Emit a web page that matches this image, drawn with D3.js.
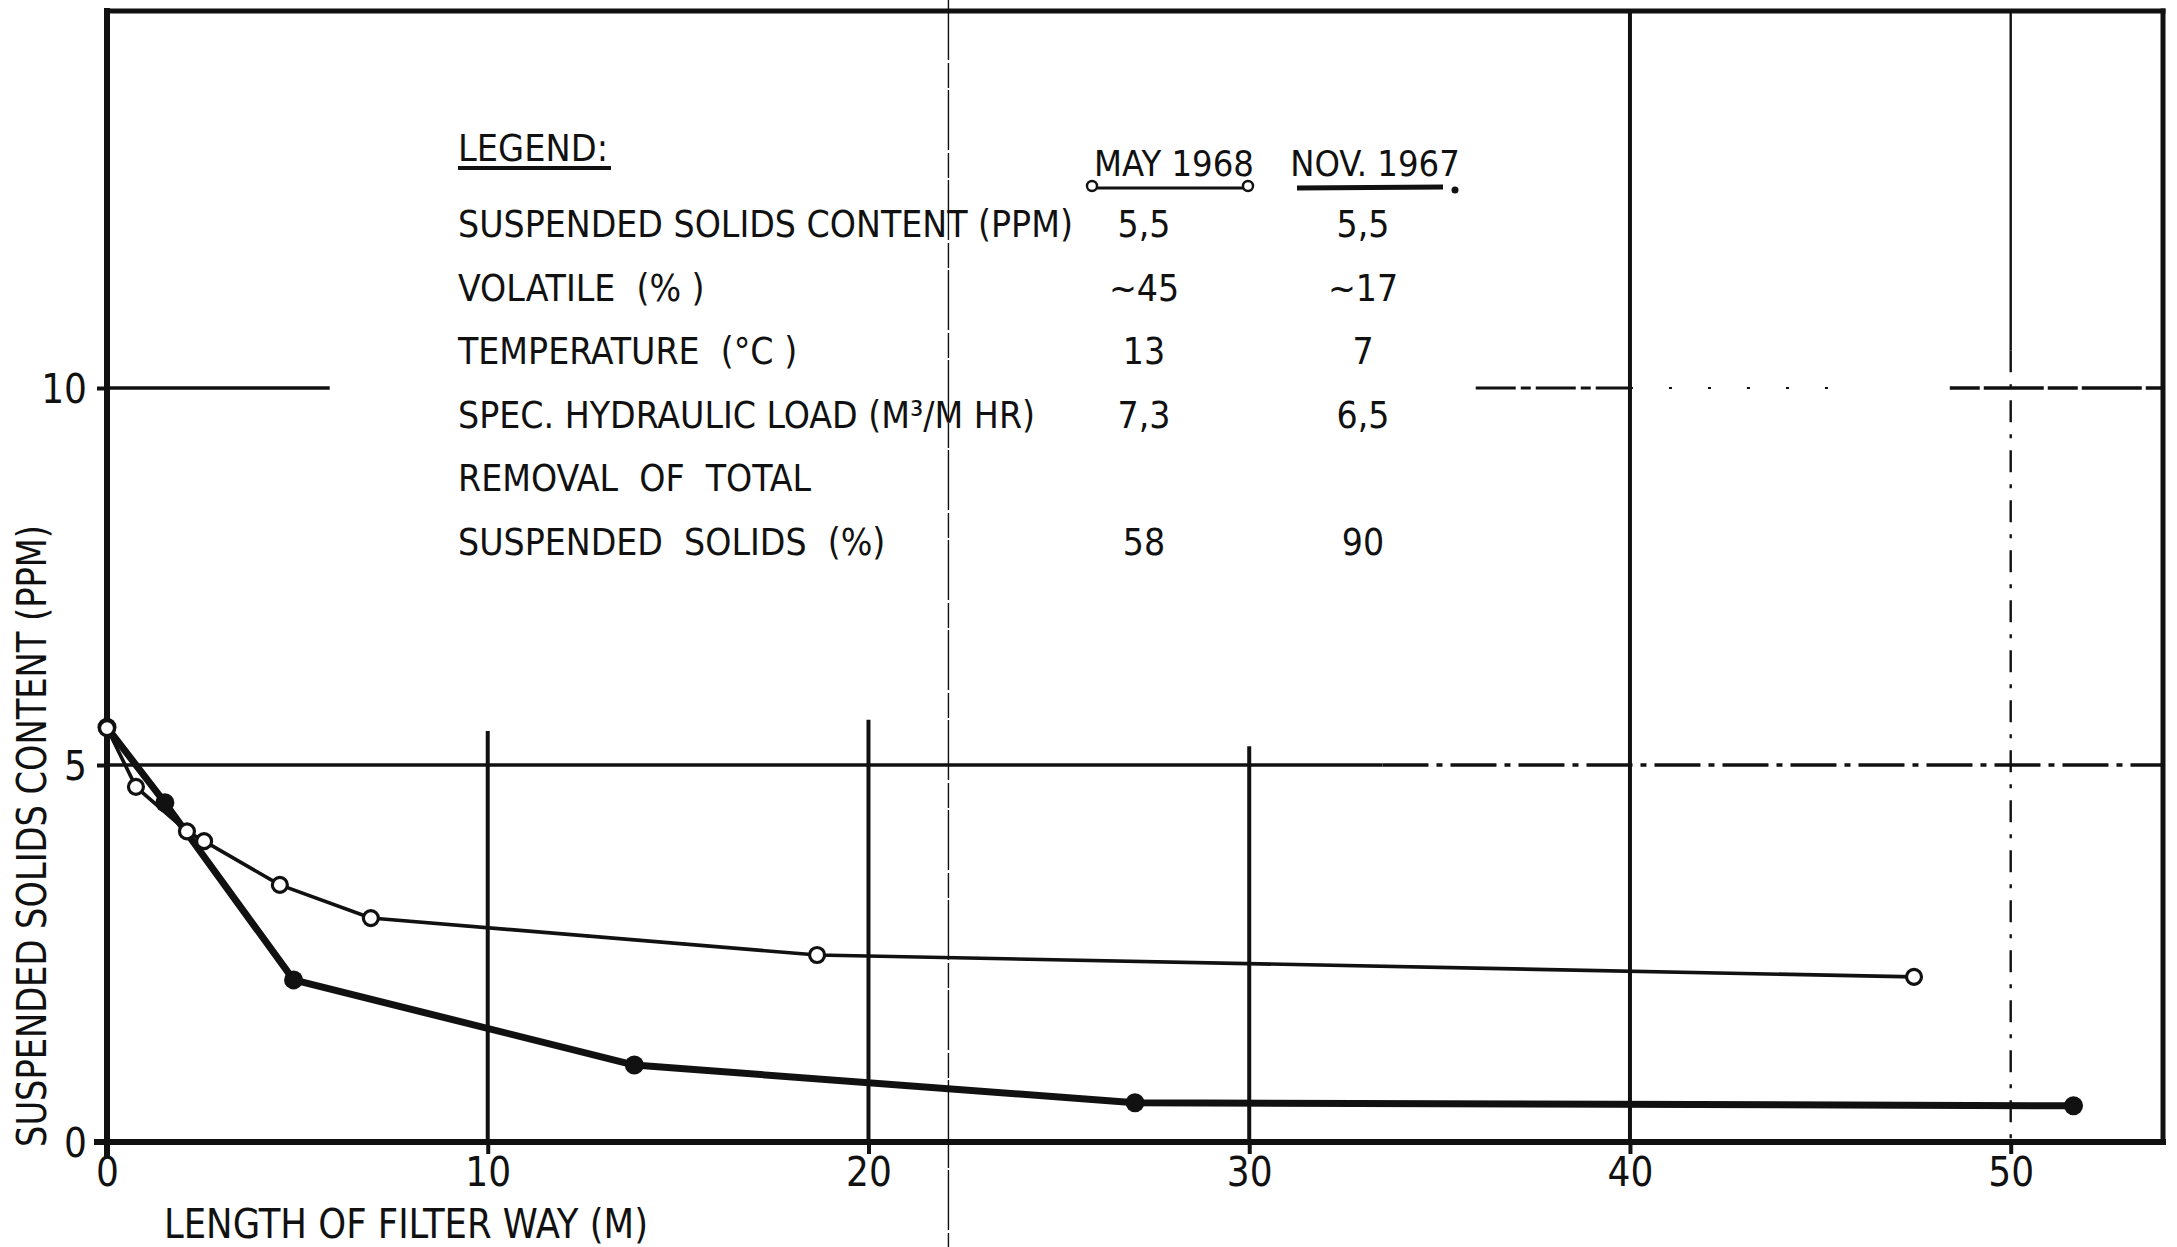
<!DOCTYPE html>
<html>
<head>
<meta charset="utf-8">
<script src="https://cdn.jsdelivr.net/npm/d3@7"></script>
<style>
  html, body { margin: 0; padding: 0; background: #fff; }
  svg { display: block; }
  text { font-family: "Liberation Sans Narrow", "DejaVu Sans Condensed", "Arial Narrow", sans-serif; fill: #111; white-space: pre; }
</style>
</head>
<body>
<svg id="chart" width="2177" height="1247"></svg>
<script>
// Suspended solids along the filter way, two sampling campaigns
const may1968Length = [0, 0.76, 2.1, 2.55, 4.54, 6.93, 18.65, 47.46];
const may1968Solids = [5.49, 4.71, 4.12, 3.99, 3.41, 2.97, 2.48, 2.19];
const nov1967Length = [0, 1.52, 4.9, 13.85, 27.0, 51.65];
const nov1967Solids = [5.5, 4.5, 2.15, 1.02, 0.52, 0.48];

// Axis ticks
const xTicks = [0, 10, 20, 30, 40, 50];
const yTicks = [0, 5, 10];

// Vertical grid lines and how far up each one is drawn (ppm)
const gridX = [10, 20, 30, 40];
const gridXTop = [5.45, 5.6, 5.25, 15];

// Legend table
const legendColumns = ["MAY 1968", "NOV. 1967"];
const legendRows = [
  "SUSPENDED SOLIDS CONTENT (PPM)",
  "VOLATILE  (% )",
  "TEMPERATURE  (°C )",
  "SPEC. HYDRAULIC LOAD (M³/M HR)",
  "REMOVAL  OF  TOTAL",
  "SUSPENDED  SOLIDS  (%)"
];
const may1968Values = ["5,5", "~45", "13", "7,3", "", "58"];
const nov1967Values = ["5,5", "~17", "7", "6,5", "", "90"];

const svg = d3.select("#chart");
const W = 2177, H = 1247;

const x = d3.scaleLinear().domain([0, 54]).range([107, 2163]);
const y = d3.scaleLinear().domain([0, 15]).range([1142, 11]);

const ink = "#111";

// ---- grid ----
const grid = svg.append("g").attr("stroke", ink).attr("fill", "none");

// horizontal line at 5 ppm: solid, then broken towards the right
grid.append("line")
  .attr("x1", x(0)).attr("x2", x(33.5)).attr("y1", y(5)).attr("y2", y(5))
  .attr("stroke-width", 3.6);
grid.append("line")
  .attr("x1", x(33.5)).attr("x2", x(54)).attr("y1", y(5)).attr("y2", y(5))
  .attr("stroke-width", 3.4).attr("stroke-dasharray", "46,8,6,8");

// horizontal line at 10 ppm, interrupted by the legend
grid.append("line")
  .attr("x1", x(0)).attr("x2", x(5.85)).attr("y1", y(10)).attr("y2", y(10))
  .attr("stroke-width", 3.6);
grid.append("line")
  .attr("x1", x(35.95)).attr("x2", x(40)).attr("y1", y(10)).attr("y2", y(10))
  .attr("stroke-width", 3).attr("stroke-dasharray", "40,5,10,5");
grid.append("line")
  .attr("x1", x(40)).attr("x2", x(45.4)).attr("y1", y(10)).attr("y2", y(10))
  .attr("stroke-width", 2.2).attr("stroke-dasharray", "3,36");
grid.append("line")
  .attr("x1", x(48.4)).attr("x2", x(54)).attr("y1", y(10)).attr("y2", y(10))
  .attr("stroke-width", 3.4).attr("stroke-dasharray", "30,4,60,4");

// vertical grid lines
grid.selectAll("line.vgrid")
  .data(gridX)
  .join("line")
  .attr("class", "vgrid")
  .attr("x1", d => x(d)).attr("x2", d => x(d))
  .attr("y1", y(0)).attr("y2", (d, i) => y(gridXTop[i]))
  .attr("stroke-width", 4);

// 50 m line: solid near the top, dash-dot below
grid.append("line")
  .attr("x1", x(50)).attr("x2", x(50)).attr("y1", y(15)).attr("y2", y(10.5))
  .attr("stroke-width", 2.4);
grid.append("line")
  .attr("x1", x(50)).attr("x2", x(50)).attr("y1", y(10.5)).attr("y2", y(0))
  .attr("stroke-width", 2.4).attr("stroke-dasharray", "22,12,4,12");

// thin fold line across the sheet
svg.append("line")
  .attr("x1", x(22.1)).attr("x2", x(22.1)).attr("y1", 0).attr("y2", H)
  .attr("stroke", ink).attr("stroke-width", 1.4).attr("stroke-dasharray", "60,3,25,2");

// ---- frame and axes ----
const frame = svg.append("g").attr("stroke", ink).attr("fill", "none").attr("stroke-linecap", "square");
frame.append("line")   // top border
  .attr("x1", x(0)).attr("x2", x(54)).attr("y1", y(15)).attr("y2", y(15))
  .attr("stroke-width", 5);
frame.append("line")   // right border
  .attr("x1", x(54)).attr("x2", x(54)).attr("y1", y(15)).attr("y2", y(0))
  .attr("stroke-width", 5);
frame.append("line")   // x axis
  .attr("x1", x(0) - 10).attr("x2", x(54)).attr("y1", y(0)).attr("y2", y(0))
  .attr("stroke-width", 6);
frame.append("line")   // y axis
  .attr("x1", x(0)).attr("x2", x(0)).attr("y1", y(15)).attr("y2", y(0) + 12)
  .attr("stroke-width", 6);

const xAxis = d3.axisBottom(x).tickValues(xTicks).tickSize(12).tickPadding(4).tickFormat(d3.format("d"));
const gx = svg.append("g").attr("transform", `translate(0,${y(0)})`).call(xAxis);
gx.select(".domain").remove();
gx.selectAll(".tick line").attr("stroke", ink).attr("stroke-width", 4);
gx.selectAll(".tick text").attr("font-size", 40).attr("fill", ink);

const yAxis = d3.axisLeft(y).tickValues(yTicks).tickSize(10).tickPadding(10).tickFormat(d3.format("d"));
const gy = svg.append("g").attr("transform", `translate(${x(0)},0)`).call(yAxis);
gy.select(".domain").remove();
gy.selectAll(".tick line").attr("stroke", ink).attr("stroke-width", 4);
gy.selectAll(".tick text").attr("font-size", 40).attr("fill", ink).attr("dy", "0.36em");

// axis titles
svg.append("text")
  .attr("transform", `translate(46,836) rotate(-90)`)
  .attr("text-anchor", "middle")
  .attr("font-size", 40)
  .attr("textLength", 622).attr("lengthAdjust", "spacingAndGlyphs")
  .text("SUSPENDED SOLIDS CONTENT (PPM)");

svg.append("text")
  .attr("x", 164).attr("y", 1238)
  .attr("font-size", 40)
  .attr("textLength", 484).attr("lengthAdjust", "spacingAndGlyphs")
  .text("LENGTH OF FILTER WAY (M)");

// ---- data series ----
const may = may1968Length.map((d, i) => ({ x: d, y: may1968Solids[i] }));
const nov = nov1967Length.map((d, i) => ({ x: d, y: nov1967Solids[i] }));
const line = d3.line().x(d => x(d.x)).y(d => y(d.y));

svg.append("path").datum(nov)
  .attr("d", line).attr("fill", "none").attr("stroke", ink)
  .attr("stroke-width", 7).attr("stroke-linejoin", "round");
svg.append("path").datum(may)
  .attr("d", line).attr("fill", "none").attr("stroke", ink)
  .attr("stroke-width", 3.6).attr("stroke-linejoin", "round");

svg.append("g").selectAll("circle")
  .data(nov).join("circle")
  .attr("cx", d => x(d.x)).attr("cy", d => y(d.y)).attr("r", 9.5)
  .attr("fill", ink);
svg.append("g").selectAll("circle")
  .data(may).join("circle")
  .attr("cx", d => x(d.x)).attr("cy", d => y(d.y)).attr("r", 7.5)
  .attr("fill", "#fff").attr("stroke", ink).attr("stroke-width", 3.2);

// ---- legend ----
const lg = svg.append("g");
lg.append("text")
  .attr("x", 458).attr("y", 161)
  .attr("font-size", 38)
  .attr("textLength", 150).attr("lengthAdjust", "spacingAndGlyphs")
  .text("LEGEND:");
lg.append("line")
  .attr("x1", 458).attr("x2", 611).attr("y1", 168).attr("y2", 168)
  .attr("stroke", ink).attr("stroke-width", 4);

const colX = d3.scalePoint().domain(legendColumns).range([1174, 1375]);
lg.selectAll("text.col")
  .data(legendColumns).join("text")
  .attr("class", "col")
  .attr("x", d => colX(d)).attr("y", 176)
  .attr("text-anchor", "middle")
  .attr("font-size", 36)
  .text(d => d);

// column symbols: open-ended thin rule for May 1968, heavy rule with dot for Nov. 1967
const mayX = colX(legendColumns[0]), novX = colX(legendColumns[1]);
lg.append("line")
  .attr("x1", mayX - 78).attr("x2", mayX + 70).attr("y1", 188).attr("y2", 188)
  .attr("stroke", ink).attr("stroke-width", 3);
lg.selectAll("circle.may")
  .data([mayX - 82, mayX + 74]).join("circle")
  .attr("class", "may")
  .attr("cx", d => d).attr("cy", 186).attr("r", 5)
  .attr("fill", "#fff").attr("stroke", ink).attr("stroke-width", 2.4);
lg.append("line")
  .attr("x1", novX - 78).attr("x2", novX + 68).attr("y1", 188).attr("y2", 187)
  .attr("stroke", ink).attr("stroke-width", 5);
lg.append("circle")
  .attr("cx", novX + 80).attr("cy", 190).attr("r", 3.5).attr("fill", ink);

const rowY = d3.scalePoint().domain(d3.range(legendRows.length)).range([237, 555]);
lg.selectAll("text.row")
  .data(legendRows).join("text")
  .attr("class", "row")
  .attr("x", 458).attr("y", (d, i) => rowY(i))
  .attr("font-size", 37)
  .text(d => d);
lg.selectAll("text.may")
  .data(may1968Values).join("text")
  .attr("class", "may")
  .attr("x", mayX - 30).attr("y", (d, i) => rowY(i))
  .attr("text-anchor", "middle")
  .attr("font-size", 37)
  .text(d => d);
lg.selectAll("text.nov")
  .data(nov1967Values).join("text")
  .attr("class", "nov")
  .attr("x", novX - 12).attr("y", (d, i) => rowY(i))
  .attr("text-anchor", "middle")
  .attr("font-size", 37)
  .text(d => d);
</script>
</body>
</html>
